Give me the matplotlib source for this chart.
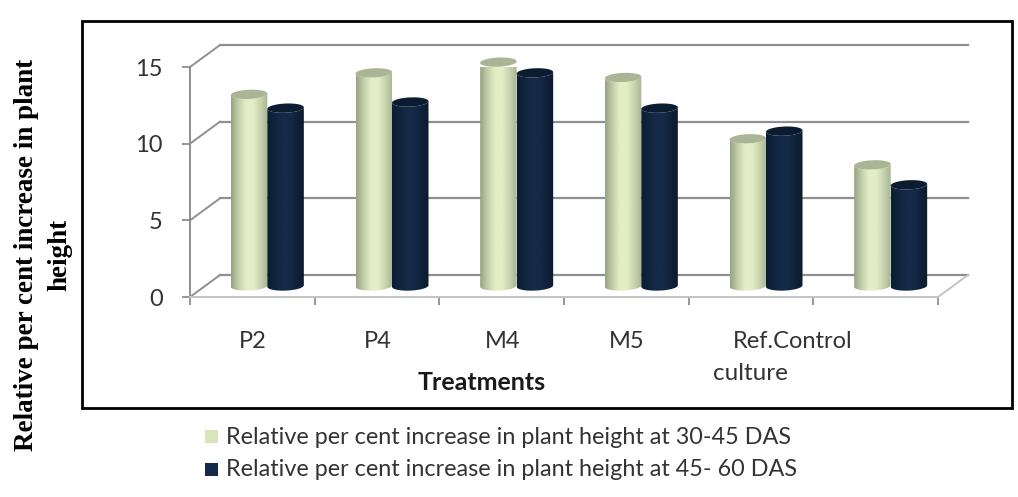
import numpy as np
import matplotlib
matplotlib.use('Agg')
import matplotlib.pyplot as plt
from matplotlib.colors import LinearSegmentedColormap
from matplotlib.patches import Polygon, Rectangle

categories = ['P2', 'P4', 'M4', 'M5', 'Ref.Control', '']
series_30_45 = [12.5, 13.9, 14.6, 13.6, 9.6, 7.9]
series_45_60 = [11.6, 12.0, 13.9, 11.6, 10.1, 6.6]
y_ticks = [0, 5, 10, 15]
legend_labels = ['Relative per cent increase in plant height at 30-45 DAS',
                 'Relative per cent increase in plant height at 45- 60 DAS']

W, H = 1018, 497
GRID = '#8f8f8f'
TEXT = '#333333'

fig = plt.figure(figsize=(W / 100, H / 100), dpi=100)
# axes box = front plane of the 3D chart, in pixels
ax = fig.add_axes([190 / W, 1 - 297 / H, 748 / W, 230 / H])
ax.set_xlim(0, 6)
ax.set_ylim(0, 15)

# depth of the 3D box in data units
dx = 30 / (748 / 6)
dy = 22 / (230 / 15)

# back wall gridlines and side diagonals
for v in y_ticks:
    ax.plot([dx, 6 + dx], [v + dy, v + dy], color=GRID, lw=1.6, clip_on=False, zorder=1)
    ax.plot([0, dx], [v, v + dy], color=GRID, lw=1.4, clip_on=False, zorder=1)
ax.plot([6, 6 + dx], [0, dy], color='#c4c4c4', lw=1.4, clip_on=False, zorder=1)

light_cmap = LinearSegmentedColormap.from_list('light', ['#98a384', '#c3cea9', '#e3eec6', '#e3eec6', '#c9d4b0', '#a9b494'])
dark_cmap = LinearSegmentedColormap.from_list('dark', ['#0c1e33', '#10243d', '#142a47', '#142a47', '#0f2239', '#0b1b2e'])
grad = np.linspace(0, 1, 64).reshape(1, -1)

bar_w = 36.5 / (748 / 6)
cap_b = 0.3
cap_k = 0.05
t = np.linspace(0, np.pi, 40)


def cylinder(x0, val, cmap, cap_color, z):
    a = bar_w / 2
    cx = x0 + a
    y_base = dy / 2
    y_top = val + dy / 2
    # body outline: top edge, right side, front of bottom ellipse
    bx = cx + a * np.cos(t)
    by = y_base - cap_b * np.sin(t) + cap_k * np.cos(t)
    body = np.column_stack([bx[::-1], by[::-1]])
    tx = cx + a * np.cos(t)
    ty = y_top - cap_b * np.sin(t) + cap_k * np.cos(t)
    outline = np.vstack([body, np.column_stack([tx, ty])])
    poly = Polygon(outline, closed=True, facecolor='none', edgecolor='none', zorder=z, clip_on=False)
    ax.add_patch(poly)
    im = ax.imshow(grad, extent=[x0, x0 + bar_w, 0, 16], aspect='auto', cmap=cmap, zorder=z, clip_on=True)
    im.set_clip_path(poly)
    # top cap
    th = np.linspace(0, 2 * np.pi, 80)
    capx = cx + a * np.cos(th)
    capy = y_top + cap_b * np.sin(th) + cap_k * np.cos(th)
    ax.add_patch(Polygon(np.column_stack([capx, capy]), closed=True, facecolor=cap_color,
                         edgecolor='none', zorder=z + 0.1, clip_on=False))


for i in range(len(categories)):
    x_left = i + 0.5 + dx / 2 - bar_w
    cylinder(x_left, series_30_45[i], light_cmap, '#a9b594', 3 + i)
    cylinder(x_left + bar_w, series_45_60[i], dark_cmap, '#0b1c30', 3.5 + i)

ax.set_xlim(0, 6)
ax.set_ylim(0, 15)
ax.patch.set_visible(False)
for s in ['top', 'right']:
    ax.spines[s].set_visible(False)
ax.spines['left'].set_color(GRID)
ax.spines['left'].set_linewidth(1.4)
ax.spines['bottom'].set_color('#c4c4c4')
ax.spines['bottom'].set_linewidth(1.4)
ax.set_xticks(range(7))
ax.set_xticklabels([])
ax.set_yticks(y_ticks)
ax.tick_params(axis='both', color=GRID, length=5.5, width=1.3)
ax.tick_params(axis='y', labelsize=17, labelcolor=TEXT, pad=14)
for lab in ax.get_yticklabels():
    lab.set_family('Lato')


def px_text(x, y, s, **kw):
    fig.text(x / W, 1 - y / H, s, va='center', **kw)


# category labels sit by hand in the original, not centred
label_x = [239, 364, 485, 609, 733]
for x, c in zip(label_x, categories[:5]):
    px_text(x, 341, c, family='Lato', fontsize=17, color=TEXT)
px_text(713, 373, 'culture', family='Lato', fontsize=17.5, color=TEXT)
px_text(418, 382, 'Treatments', family='Lato', fontsize=18, fontweight='bold', color='#1a1a1a')

# y title, two rotated lines
fig.text(27 / W, 1 - 255 / H, 'Relative per cent increase in plant', rotation=90, ha='center', va='center',
         family='Liberation Serif', fontweight='bold', fontsize=19.5, color='black')
fig.text(60 / W, 1 - 255 / H, 'height', rotation=90, ha='center', va='center',
         family='Liberation Serif', fontweight='bold', fontsize=19.5, color='black')

# outer frame
fig.add_artist(Rectangle((82 / W, 1 - 408 / H), 930 / W, 387 / H, transform=fig.transFigure,
                         facecolor='none', edgecolor='black', lw=2))

# legend
for y, c, s in zip([437, 470], ['#d8e4bc', '#14294a'], legend_labels):
    fig.add_artist(Rectangle((205 / W, 1 - (y + 6) / H), 13 / W, 13 / H, transform=fig.transFigure,
                             facecolor=c, edgecolor='none'))
    px_text(226, y, s, family='Lato', fontsize=16.8, color=TEXT)

fig.savefig('out.png', dpi=100)
